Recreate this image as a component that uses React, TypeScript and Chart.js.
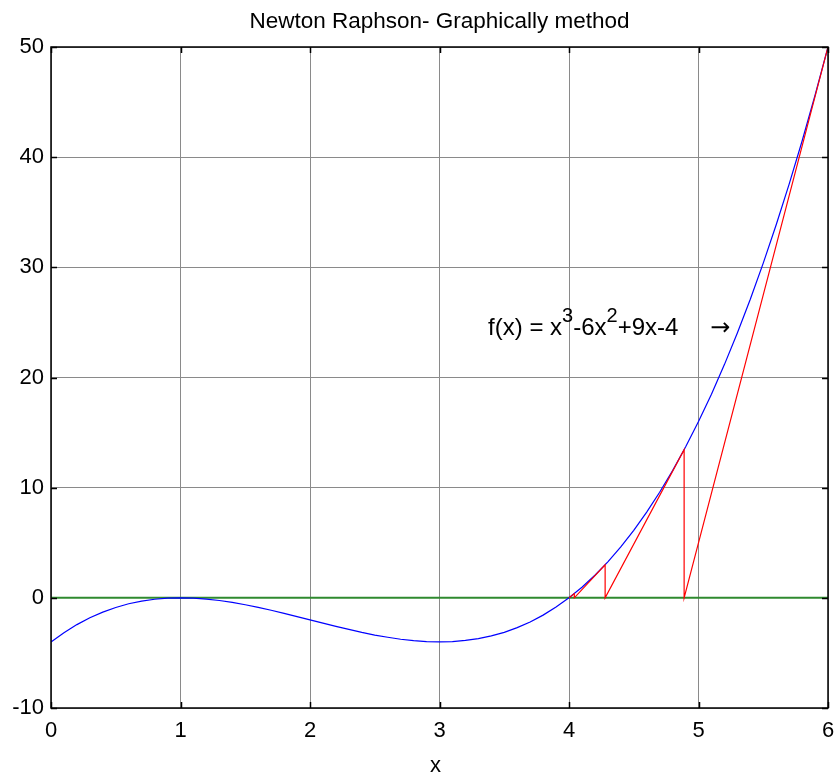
import React, { useEffect, useRef } from "react";
import { Chart, registerables } from "chart.js";

Chart.register(...registerables);

const curveX = [
  0, 0.1, 0.2, 0.3, 0.4, 0.5, 0.6, 0.7, 0.8, 0.9, 1.0, 1.1, 1.2, 1.3, 1.4, 1.5, 1.6, 1.7, 1.8, 1.9,
  2.0, 2.1, 2.2, 2.3, 2.4, 2.5, 2.6, 2.7, 2.8, 2.9, 3.0, 3.1, 3.2, 3.3, 3.4, 3.5, 3.6, 3.7, 3.8, 3.9,
  4.0, 4.1, 4.2, 4.3, 4.4, 4.5, 4.6, 4.7, 4.8, 4.9, 5.0, 5.1, 5.2, 5.3, 5.4, 5.5, 5.6, 5.7, 5.8, 5.9, 6.0,
];
const curveY = [
  -4.0, -3.16, -2.43, -1.81, -1.3, -0.88, -0.54, -0.3, -0.13, -0.03, 0.0, -0.03, -0.11, -0.24, -0.42, -0.63, -0.86, -1.13, -1.41, -1.7,
  -2.0, -2.3, -2.59, -2.87, -3.14, -3.38, -3.58, -3.76, -3.89, -3.97, -4.0, -3.97, -3.87, -3.7, -3.46, -3.13, -2.7, -2.19, -1.57, -0.84,
  0.0, 0.96, 2.05, 3.27, 4.62, 6.13, 7.78, 9.58, 11.55, 13.69, 16.0, 18.49, 21.17, 24.04, 27.1, 30.38, 33.86, 37.55, 41.47, 45.62, 50.0,
];
const newtonX = [6, 4.889, 4.889, 4.279, 4.279, 4.041, 4.041, 4.001];
const newtonY = [50, 0, 13.45, 0, 2.99, 0, 0.38, 0];
const zeroX = [0, 6];
const zeroY = [0, 0];
const xTicks = [0, 1, 2, 3, 4, 5, 6];
const yTicks = [-10, 0, 10, 20, 30, 40, 50];

const titleText = "Newton Raphson- Graphically method";
const xLabel = "x";
const FONT = "Liberation Sans, Arial, sans-serif";

const toPts = (xs: number[], ys: number[]) => xs.map((x, i) => ({ x, y: ys[i] }));

const decorPlugin = {
  id: "decor",
  afterDatasetsDraw(chart: any) {
    const { ctx, chartArea: a, scales } = chart;
    const xs = scales.x;
    const ys = scales.y;
    ctx.save();
    // box
    ctx.strokeStyle = "#000";
    ctx.lineWidth = 1.5;
    ctx.strokeRect(a.left, a.top, a.right - a.left, a.bottom - a.top);
    // inward ticks
    ctx.lineWidth = 1.5;
    const tl = 6;
    ctx.beginPath();
    xTicks.forEach((v) => {
      const px = Math.round(xs.getPixelForValue(v)) + 0.5;
      ctx.moveTo(px, a.bottom);
      ctx.lineTo(px, a.bottom - tl);
      ctx.moveTo(px, a.top);
      ctx.lineTo(px, a.top + tl);
    });
    yTicks.forEach((v) => {
      const py = Math.round(ys.getPixelForValue(v)) + 0.5;
      ctx.moveTo(a.left, py);
      ctx.lineTo(a.left + tl, py);
      ctx.moveTo(a.right, py);
      ctx.lineTo(a.right - tl, py);
    });
    ctx.stroke();

    ctx.fillStyle = "#000";
    // title
    ctx.font = `22.5px ${FONT}`;
    ctx.textAlign = "center";
    ctx.textBaseline = "alphabetic";
    ctx.fillText(titleText, (a.left + a.right) / 2, 28);
    // x label
    ctx.font = `22px ${FONT}`;
    ctx.fillText(xLabel, (a.left + a.right) / 2 - 4, 772);

    // annotation
    const ax = xs.getPixelForValue(3.375);
    const ay = ys.getPixelForValue(23.9);
    ctx.textAlign = "left";
    const parts: [string, boolean][] = [
      ["f(x) = x", false],
      ["3", true],
      ["-6x", false],
      ["2", true],
      ["+9x-4", false],
    ];
    let cx = ax;
    parts.forEach(([t, sup]) => {
      ctx.font = sup ? `20px ${FONT}` : `24px ${FONT}`;
      ctx.fillText(t, cx, sup ? ay - 13 : ay);
      cx += ctx.measureText(t).width;
    });
    ctx.font = `24px DejaVu Sans, sans-serif`;
    ctx.fillText("\u2192", xs.getPixelForValue(5.09), ay);
    ctx.restore();
  },
};

export default function App() {
  const ref = useRef<HTMLCanvasElement | null>(null);
  useEffect(() => {
    document.body.style.margin = "0";
    if (!ref.current) return;
    const chart = new Chart(ref.current, {
      type: "scatter",
      data: {
        datasets: [
          {
            data: toPts(newtonX, newtonY),
            showLine: true,
            borderColor: "#ff0000",
            borderWidth: 1.2,
            pointRadius: 0,
            tension: 0,
          },
          {
            data: toPts(curveX, curveY),
            showLine: true,
            borderColor: "#0000ff",
            borderWidth: 1.2,
            pointRadius: 0,
            tension: 0,
          },
          {
            data: toPts(zeroX, zeroY),
            showLine: true,
            borderColor: "#2f8a2f",
            borderWidth: 2,
            pointRadius: 0,
          },
        ],
      },
      options: {
        responsive: false,
        animation: false,
        layout: { padding: { top: 47, right: 7, left: 0, bottom: 0 } },
        plugins: {
          legend: { display: false },
          tooltip: { enabled: false },
          title: { display: false },
        },
        scales: {
          x: {
            type: "linear",
            min: 0,
            max: 6,
            afterFit: (s: any) => {
              s.height = 68;
              s.paddingLeft = 0;
              s.paddingRight = 0;
            },
            afterBuildTicks: (s: any) => {
              s.ticks = xTicks.map((v) => ({ value: v }));
            },
            ticks: {
              font: { family: FONT, size: 22 },
              color: "#000",
              padding: 10,
              maxRotation: 0,
            },
            grid: { color: "#8a8a8a", lineWidth: 1, drawTicks: false },
            border: { display: false },
          },
          y: {
            type: "linear",
            min: -10,
            max: 50,
            afterFit: (s: any) => {
              s.width = 51;
              s.paddingTop = 0;
              s.paddingBottom = 0;
            },
            afterBuildTicks: (s: any) => {
              s.ticks = yTicks.map((v) => ({ value: v }));
            },
            ticks: {
              font: { family: FONT, size: 22 },
              color: "#000",
              padding: 7,
            },
            grid: { color: "#8a8a8a", lineWidth: 1, drawTicks: false },
            border: { display: false },
          },
        },
      },
      plugins: [decorPlugin],
    } as any);
    return () => chart.destroy();
  }, []);
  return (
    <div style={{ width: 835, height: 776 }}>
      <canvas ref={ref} width={835} height={776} />
    </div>
  );
}
